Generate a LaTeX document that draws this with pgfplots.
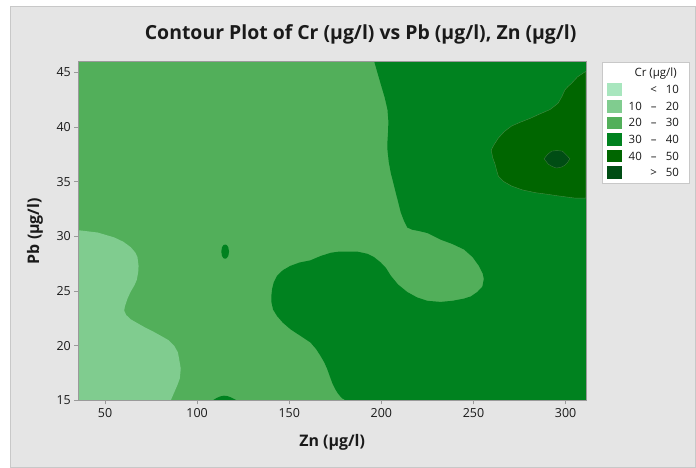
\documentclass[border=0pt]{standalone}
\usepackage{fontspec}
\setmainfont{Open Sans}
\usepackage{pgfplots}
\pgfplotsset{compat=1.18}
\definecolor{cA}{HTML}{A8E6BE}
\definecolor{cB}{HTML}{80CC8F}
\definecolor{cC}{HTML}{52AF5A}
\definecolor{cD}{HTML}{00821F}
\definecolor{cE}{HTML}{006600}
\definecolor{cF}{HTML}{004D14}
\definecolor{panel}{HTML}{E5E5E5}
\definecolor{panelborder}{HTML}{C8C8C8}
\definecolor{frame}{HTML}{9A9A9A}
\definecolor{txt}{HTML}{1A1A1A}
\begin{document}
\begin{tikzpicture}[x=1pt,y=1pt]
\fill[white] (0,0) rectangle (696,467);
\filldraw[fill=panel, draw=panelborder, line width=1pt] (10.5,-2) rectangle (698,460.5);
\begin{axis}[at={(78.6pt,65.3pt)}, anchor=south west, scale only axis,
  width=509.4pt, height=340pt,
  xmin=35.5, xmax=311, ymin=15, ymax=46,
  xtick={50,100,...,300}, ytick={15,20,...,45},
  tick align=outside, tick pos=left, major tick length=4pt,
  axis line style={draw=frame, line width=0.8pt},
  every tick/.style={draw=frame, line width=0.7pt},
  ticklabel style={font=\fontsize{12.5}{14}\selectfont, text=txt},
  xticklabel style={yshift=-1pt},
  /pgf/number format/assume math mode=true,
  axis on top]
% base 20-30
\addplot[fill=cC, draw=none] coordinates {(35.5,15) (311,15) (311,46) (35.5,46)} -- cycle;
% 10-20 left
\addplot[fill=cB, draw=none] coordinates {
(35.5,30.56) (46,30.35) (55,29.9) (60,29.5) (64,29.0) (66.5,28.5) (67.6,28.1) (68.2,27.3) (68,26.7) (67.2,26.0) (65.9,25.5) (63.8,24.9) (62.2,24.3) (60.8,23.6) (60.4,23.2) (61.5,22.8) (64,22.4) (71.3,21.7) (76,21.3) (80.3,20.9) (84.5,20.5) (87.5,20.0) (89.5,19.4) (90.2,18.8) (91.1,17.9) (90.6,17.0) (89.3,16.4) (87.5,15.7) (85.7,15) (35.5,15)} -- cycle;
% 30-40
\addplot[fill=cD, draw=none] coordinates {
(196.1,46) (197.8,45.0) (199.7,43.9) (201.8,42.7) (203.3,41.6) (203.8,40.5) (203.6,39.5) (203.3,38.7) (203.3,37.9) (204,36.8) (205.1,35.8) (207.8,34.0) (210.5,32.2) (212.3,31.4) (214.1,30.8) (216.8,30.6) (220,30.5) (225,30.3) (232.1,29.7) (238.5,29.3) (244.8,28.8) (249.5,28.1) (252.9,27.3) (255,26.6) (255.6,26.1) (254.8,25.4) (252,24.9) (248.5,24.5) (244.8,24.3) (238.5,24.1) (232.1,24.0) (225,24.1) (219.5,24.4) (214.1,24.9) (209,25.6) (205.1,26.4) (202.5,27.1) (199.7,27.6) (196,28.1) (192.5,28.4) (187,28.6) (181.7,28.6) (177,28.6) (172.6,28.5) (167,28.2) (161.4,27.8) (155.5,27.6) (150.6,27.3) (146.5,26.9) (143.4,26.4) (141.6,25.8) (140.7,25.2) (140.3,24.6) (140.3,24.0) (141.2,23.3) (143.4,22.7) (146.5,22.1) (150.6,21.5) (156,20.9) (161.4,20.3) (164.5,19.7) (166.8,19.1) (168.9,18.5) (170.5,17.9) (172,17.2) (173.5,16.5) (175,16.0) (176.5,15.6) (178.5,15.2) (180.5,15) (311,15) (311,46)} -- cycle;
% small 30-40 islands
\addplot[fill=cD, draw=none] coordinates {
(113.1,28.6) (113.5,29.0) (114.3,29.2) (115.2,29.25) (116.1,29.2) (116.9,29.0) (117.3,28.6) (116.9,28.2) (116.0,28.0) (115.2,27.95) (114.3,28.0) (113.5,28.2)} -- cycle;
\addplot[fill=cD, draw=none] coordinates {
(108.5,15) (110.5,15.2) (112.5,15.35) (114.5,15.42) (116.5,15.38) (118.5,15.25) (121.5,15)} -- cycle;
% 40-50
\addplot[fill=cE, draw={rgb,255:red,70;green,140;blue,70}, line width=0.4pt] coordinates {
(311,45.1) (306.5,44.6) (303.2,44.0) (301.2,43.7) (299.6,43.4) (298,42.8) (296,42.2) (293.8,41.9) (291.5,41.6) (286,41.2) (280.8,40.8) (275.5,40.45) (270.7,40.1) (266.8,39.6) (263.5,39.0) (261.2,38.4) (259.6,37.9) (260.4,37.2) (261.7,36.6) (262.6,36.0) (263.5,35.5) (266.5,35.0) (270.7,34.6) (276.5,34.25) (283.4,34.0) (290,33.85) (296,33.7) (305,33.5) (311,33.5)} -- cycle;
% >50
\addplot[fill=cF, draw={rgb,255:red,60;green,120;blue,60}, line width=0.4pt] coordinates {
(288.3,37.1) (290.2,37.5) (292.4,37.8) (295.3,37.85) (298.2,37.8) (300.4,37.45) (302.3,37.1) (301.0,36.75) (299.6,36.5) (297.2,36.3) (294.8,36.25) (292.6,36.4) (290.6,36.6)} -- cycle;
\end{axis}
% title and labels
\node[font=\fontsize{19.5}{22}\selectfont\bfseries, text=txt] at (362,432) {Contour Plot of Cr (µg/l) vs Pb (µg/l), Zn (µg/l)};
\node[font=\fontsize{16}{18}\selectfont\bfseries, text=txt] at (333.3,23.5) {Zn (µg/l)};
\node[font=\fontsize{16}{18}\selectfont\bfseries, text=txt, rotate=90] at (35,235) {Pb (µg/l)};
% legend
\filldraw[fill=white, draw=panelborder, line width=0.8pt] (605,283) rectangle (692,404.3);
\node[font=\fontsize{11.5}{13}\selectfont, text=txt] at (658,393.5) {Cr (µg/l)};
\begin{scope}[every node/.style={font=\fontsize{11.5}{13}\selectfont, text=txt, inner sep=0pt}]
\fill[cA] (609,370.7) rectangle (624,383.3);
\fill[cB] (609,354) rectangle (624,366.7);
\fill[cC] (609,337.3) rectangle (624,350);
\fill[cD] (609,320.7) rectangle (624,333.3);
\fill[cE] (609,304) rectangle (624,316.7);
\fill[cF] (609,287.3) rectangle (624,300);
\foreach \y/\a/\s/\b in {373/{}/{<}/10, 356.3/10/{–}/20, 339.7/20/{–}/30, 323/30/{–}/40, 306.3/40/{–}/50, 289.7/{}/{>}/50}{
  \node[anchor=base east] at (644.3,\y) {\a};
  \node[anchor=base] at (656,\y) {\s};
  \node[anchor=base east] at (681.5,\y) {\b};
}
\end{scope}
\end{tikzpicture}
\end{document}
